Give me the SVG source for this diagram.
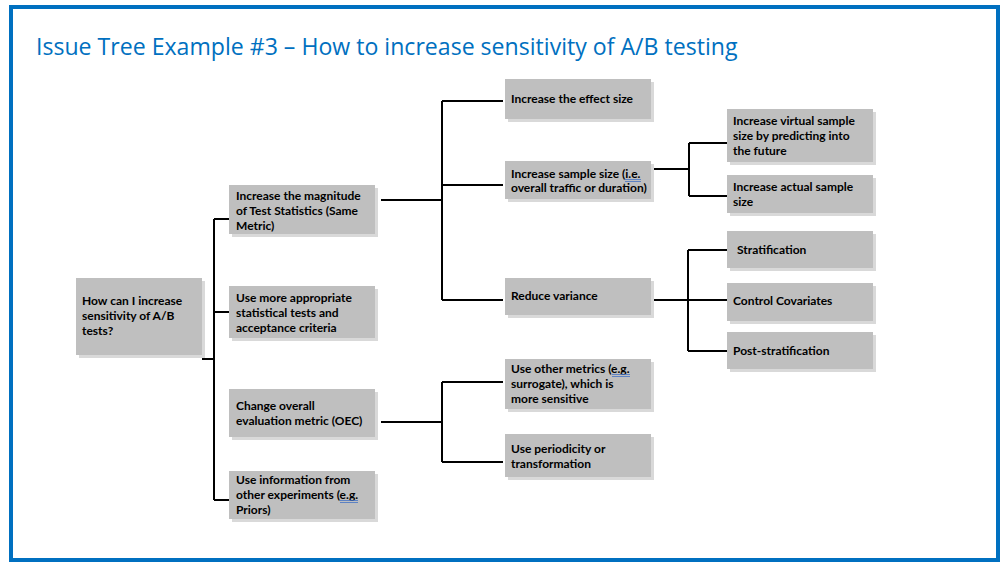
<svg xmlns="http://www.w3.org/2000/svg" width="1008" height="566" viewBox="0 0 1008 566">
<style>
.box{fill:#BFBFBF}
.sh{fill:#D9D9D9}
.t{font-family:Lato,"Liberation Sans",sans-serif;font-weight:bold;font-size:12px;fill:#000}
.c{fill:none;stroke:#000;stroke-width:2}
.sq{stroke:#4472C4;stroke-width:0.8}
</style>
<rect x="0" y="0" width="1008" height="566" fill="#fff"/>
<rect x="11" y="7" width="987" height="553" fill="#fff" stroke="#0070C0" stroke-width="4"/>
<text x="36" y="55" font-family="'Open Sans','Noto Sans',sans-serif" font-size="23.1" fill="#0070C0">Issue Tree Example #3 – How to increase sensitivity of A/B testing</text>
<g id="connectors">
<path class="c" d="M202 359H214M214 219V500M214 219H229M214 312H229M214 500H229"/>
<path class="c" d="M381 200H442M442 101V300M442 101H503M442 185H503M442 300H503"/>
<path class="c" d="M651 169H689M689 143V196M689 143H727M689 196H727"/>
<path class="c" d="M651 300H727M688 250V351M688 250H727M688 351H727"/>
<path class="c" d="M381 422H442M442 382V462M442 382H503M442 462H503"/>
</g>
<g id="root"><rect class="sh" x="79" y="281" width="126" height="77"/><rect class="box" x="76" y="278" width="126" height="77"/>
<text class="t"><tspan x="82" y="305">How can I increase</tspan><tspan x="82" y="320">sensitivity of A/B</tspan><tspan x="82" y="335">tests?</tspan></text></g>
<g id="n-magnitude"><rect class="sh" x="232" y="188" width="146" height="49"/><rect class="box" x="229" y="185" width="146" height="49"/>
<text class="t"><tspan x="236" y="200">Increase the magnitude</tspan><tspan x="236" y="215">of Test Statistics (Same</tspan><tspan x="236" y="230">Metric)</tspan></text></g>
<g id="n-tests"><rect class="sh" x="232" y="289" width="146" height="52"/><rect class="box" x="229" y="286" width="146" height="52"/>
<text class="t"><tspan x="236" y="302">Use more appropriate</tspan><tspan x="236" y="317">statistical tests and</tspan><tspan x="236" y="332">acceptance criteria</tspan></text></g>
<g id="n-oec"><rect class="sh" x="232" y="392" width="146" height="48"/><rect class="box" x="229" y="389" width="146" height="48"/>
<text class="t"><tspan x="236" y="410">Change overall</tspan><tspan x="236" y="425">evaluation metric (OEC)</tspan></text></g>
<g id="n-priors"><rect class="sh" x="232" y="474" width="146" height="48"/><rect class="box" x="229" y="471" width="146" height="48"/>
<text class="t"><tspan x="236" y="484">Use information from</tspan><tspan x="236" y="499">other experiments (e.g.</tspan><tspan x="236" y="514">Priors)</tspan></text>
<path class="sq" d="M340 500.5H358M340 502.5H358"/></g>
<g id="n-effect"><rect class="sh" x="508" y="82" width="146" height="40"/><rect class="box" x="505" y="79" width="146" height="40"/>
<text class="t" x="511" y="103">Increase the effect size</text></g>
<g id="n-sample"><rect class="sh" x="508" y="164" width="146" height="38"/><rect class="box" x="505" y="161" width="146" height="38"/>
<text class="t"><tspan x="511" y="178">Increase sample size (i.e.</tspan><tspan x="511" y="192">overall traffic or duration)</tspan></text>
<path class="sq" d="M625 179.5H641M625 181.5H641"/></g>
<g id="n-variance"><rect class="sh" x="508" y="281" width="146" height="37"/><rect class="box" x="505" y="278" width="146" height="37"/>
<text class="t" x="511" y="300">Reduce variance</text></g>
<g id="n-metrics"><rect class="sh" x="508" y="362" width="146" height="50"/><rect class="box" x="505" y="359" width="146" height="50"/>
<text class="t"><tspan x="511" y="373">Use other metrics (e.g.</tspan><tspan x="511" y="388">surrogate), which is</tspan><tspan x="511" y="403">more sensitive</tspan></text>
<path class="sq" d="M612 374.5H630M612 376.5H630"/></g>
<g id="n-periodicity"><rect class="sh" x="508" y="437" width="146" height="43"/><rect class="box" x="505" y="434" width="146" height="43"/>
<text class="t"><tspan x="511" y="453">Use periodicity or</tspan><tspan x="511" y="468">transformation</tspan></text></g>
<g id="n-virtual"><rect class="sh" x="730" y="112" width="146" height="53"/><rect class="box" x="727" y="109" width="146" height="53"/>
<text class="t"><tspan x="733" y="125">Increase virtual sample</tspan><tspan x="733" y="140">size by predicting into</tspan><tspan x="733" y="155">the future</tspan></text></g>
<g id="n-actual"><rect class="sh" x="730" y="178" width="146" height="38"/><rect class="box" x="727" y="175" width="146" height="38"/>
<text class="t"><tspan x="733" y="191">Increase actual sample</tspan><tspan x="733" y="206">size</tspan></text></g>
<g id="n-strat"><rect class="sh" x="730" y="234" width="146" height="37"/><rect class="box" x="727" y="231" width="146" height="37"/>
<text class="t" x="737" y="254">Stratification</text></g>
<g id="n-covariates"><rect class="sh" x="730" y="286" width="146" height="38"/><rect class="box" x="727" y="283" width="146" height="38"/>
<text class="t" x="733" y="305">Control Covariates</text></g>
<g id="n-post"><rect class="sh" x="730" y="335" width="146" height="37"/><rect class="box" x="727" y="332" width="146" height="37"/>
<text class="t" x="733" y="355">Post-stratification</text></g>
</svg>
